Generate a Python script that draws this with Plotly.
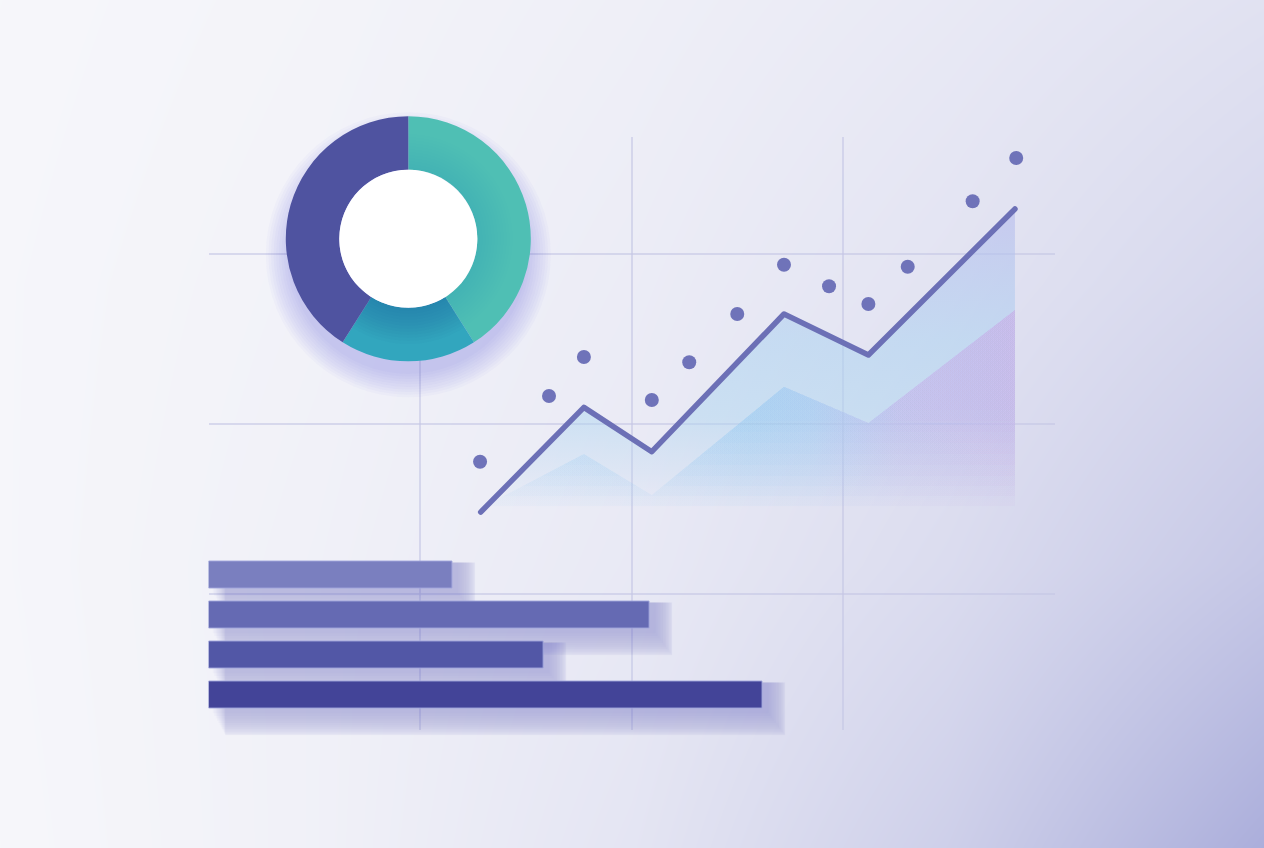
import plotly.graph_objects as go

W, H = 1264, 848

# ---------------- data ----------------
line_x = [1.287, 1.775, 2.096, 2.721, 3.120, 3.813]
line_y = [1.482, 2.098, 1.837, 2.647, 2.406, 3.265]
lower_y = [1.506, 1.824, 1.582, 2.219, 2.006, 2.671]

dot_x = [1.284, 1.610, 1.775, 2.096, 2.273, 2.500, 2.721, 2.934, 3.120, 3.306, 3.613, 3.819]
dot_y = [1.778, 2.165, 2.394, 2.141, 2.363, 2.647, 2.937, 2.810, 2.706, 2.925, 3.310, 3.565]

bar_labels = ["A", "B", "C", "D"]
bar_values = [1.151, 2.083, 1.582, 2.617]
bar_colors = ["#7a7fbf", "#656ab3", "#5257a6", "#434498"]

donut_labels = ["Teal", "Cyan", "Indigo"]
donut_values = [41, 18, 41]
donut_colors = ["#4fbfb4", "#32a6be", "#4f53a0"]
donut_shade = [0.12, 1.0, 0.0]   # relative inner shading per slice

grid_ticks = [1, 2, 3]

# background tint, rows bottom -> top
bg_x = [0, 0.25, 0.5, 0.75, 1]
bg_y = [0, 1 / 3, 2 / 3, 1]
bg_tint = [
    [0.02, 0.10, 0.26, 0.55, 1.00],
    [0.03, 0.10, 0.20, 0.38, 0.65],
    [0.03, 0.08, 0.16, 0.28, 0.45],
    [0.02, 0.06, 0.12, 0.20, 0.30],
]

# ---------------- layout helpers ----------------
X0_PX, X1_PX = 208.5, 1054.5      # chart plot area, left/right
Y_TOP_PX, Y_BOT_PX = 137, 730     # chart plot area, top/bottom
Y_MIN, PX_PER_Y = 0.2, 170.0
Y_MAX = Y_MIN + (Y_BOT_PX - Y_TOP_PX) / PX_PER_Y
BAR_TOP_PX, BAR_ROW_PX, BAR_EXTRA_ROWS = 554.5, 40.0, 0.8


def px_dom_x(a, b):
    return [a / W, b / W]


def px_dom_y(top, bottom):
    return [1 - bottom / H, 1 - top / H]


def circle_domain(cx, cy, r):
    return dict(x=px_dom_x(cx - r, cx + r), y=px_dom_y(cy - r, cy + r))


DONUT_CX, DONUT_CY, DONUT_R, HOLE_R = 408.3, 238.8, 122.5, 69.0

fig = go.Figure()
layout_axes = {}
hidden = dict(visible=False, showgrid=False, zeroline=False, fixedrange=True)
gridc = "rgba(196,198,228,0.6)"

# background gradient (subplot 1)
fig.add_trace(go.Heatmap(
    x=bg_x, y=bg_y, z=bg_tint, zmin=0, zmax=1, zsmooth="best",
    colorscale=[[0, "#f8f8fb"], [1, "#abaedb"]], showscale=False,
    hoverinfo="skip", xaxis="x", yaxis="y"))
layout_axes["xaxis"] = dict(domain=[0, 1], range=[0, 1], anchor="y", **hidden)
layout_axes["yaxis"] = dict(domain=[0, 1], range=[0, 1], anchor="x", **hidden)

# grid + upper area (subplot 2)
layout_axes["xaxis2"] = dict(domain=px_dom_x(X0_PX, X1_PX), range=[0, 4], anchor="y2",
                             tickvals=grid_ticks, showgrid=True, gridcolor=gridc, gridwidth=1.5,
                             showticklabels=False, ticks="", zeroline=False, showline=False,
                             fixedrange=True)
layout_axes["yaxis2"] = dict(domain=px_dom_y(Y_TOP_PX, Y_BOT_PX), range=[Y_MIN, Y_MAX], anchor="x2",
                             tickvals=grid_ticks, showgrid=True, gridcolor=gridc, gridwidth=1.5,
                             showticklabels=False, ticks="", zeroline=False, showline=False,
                             fixedrange=True)

fig.add_trace(go.Scatter(
    x=line_x, y=line_y, mode="lines", line=dict(width=0),
    fill="tozeroy",
    fillgradient=dict(type="vertical", start=1.50, stop=3.30,
                      colorscale=[[0, "rgba(180,210,240,0)"],
                                  [0.12, "rgba(178,212,240,0.22)"],
                                  [0.30, "rgba(172,214,240,0.48)"],
                                  [0.55, "rgba(172,210,240,0.55)"],
                                  [0.8, "rgba(178,196,238,0.58)"],
                                  [1, "rgba(184,186,236,0.62)"]]),
    hoverinfo="skip", xaxis="x2", yaxis="y2"))

# lower area: stacked clipped layers give a soft vertical fade (subplots 3..)
axis_n = 3
for b_px in [410, 421, 432, 443, 454, 465, 476, 486, 496, 506]:
    xa, ya = f"x{axis_n}", f"y{axis_n}"
    layout_axes[f"xaxis{axis_n}"] = dict(domain=px_dom_x(X0_PX, X1_PX), range=[0, 4], anchor=ya, **hidden)
    layout_axes[f"yaxis{axis_n}"] = dict(domain=px_dom_y(Y_TOP_PX, b_px),
                                         range=[Y_MIN + (Y_BOT_PX - b_px) / PX_PER_Y, Y_MAX],
                                         anchor=xa, **hidden)
    fig.add_trace(go.Scatter(
        x=line_x, y=lower_y, mode="lines", line=dict(width=0), fill="tozeroy",
        fillgradient=dict(type="horizontal", start=line_x[0], stop=line_x[-1],
                          colorscale=[[0, "rgba(165,208,242,0.06)"],
                                      [0.5, "rgba(150,200,240,0.08)"],
                                      [0.62, "rgba(160,198,240,0.08)"],
                                      [0.78, "rgba(190,178,232,0.08)"],
                                      [1, "rgba(205,168,228,0.08)"]]),
        hoverinfo="skip", xaxis=xa, yaxis=ya))
    axis_n += 1

# line + dots
xa, ya = f"x{axis_n}", f"y{axis_n}"
layout_axes[f"xaxis{axis_n}"] = dict(domain=px_dom_x(X0_PX, X1_PX), range=[0, 4], anchor=ya, **hidden)
layout_axes[f"yaxis{axis_n}"] = dict(domain=px_dom_y(Y_TOP_PX, Y_BOT_PX), range=[Y_MIN, Y_MAX],
                                     anchor=xa, **hidden)
fig.add_trace(go.Scatter(
    x=line_x, y=line_y, mode="lines",
    line=dict(color="#6c70b6", width=5.5),
    hoverinfo="skip", xaxis=xa, yaxis=ya))
fig.add_trace(go.Scatter(
    x=dot_x, y=dot_y, mode="markers",
    marker=dict(color="#6f73b9", size=14, line=dict(width=0)),
    hoverinfo="skip", xaxis=xa, yaxis=ya))
axis_n += 1

# bars with soft shadows (axis extended below the last bar so its shadow is not clipped)
xa, ya = f"x{axis_n}", f"y{axis_n}"
n_rows = len(bar_labels)
layout_axes[f"xaxis{axis_n}"] = dict(domain=px_dom_x(X0_PX, X1_PX), range=[0, 4], anchor=ya, **hidden)
layout_axes[f"yaxis{axis_n}"] = dict(
    domain=px_dom_y(BAR_TOP_PX, BAR_TOP_PX + BAR_ROW_PX * (n_rows + BAR_EXTRA_ROWS)),
    type="category", categoryarray=bar_labels, categoryorder="array",
    range=[n_rows - 0.5 + BAR_EXTRA_ROWS, -0.5], anchor=xa, **hidden)
n_sh = 14
for i in range(n_sh):
    t = (i / (n_sh - 1)) ** 1.6
    w = 1.32 - 0.55 * t            # shadow reaches 4..27 px below each bar
    ext = 0.11 - 0.08 * t          # and a little past its end
    base = 0.08 - 0.06 * t
    fig.add_trace(go.Bar(
        y=bar_labels, x=[v + ext - base for v in bar_values], base=base, orientation="h",
        width=w, offset=-0.30,
        marker=dict(color="rgba(105,100,200,0.036)", line=dict(width=0)),
        hoverinfo="skip", xaxis=xa, yaxis=ya))
fig.add_trace(go.Bar(
    y=bar_labels, x=bar_values, orientation="h", width=0.675,
    marker=dict(color=bar_colors, line=dict(color="rgba(160,165,220,0.9)", width=1)),
    hoverinfo="skip", xaxis=xa, yaxis=ya))

# donut soft shadow layers
for i in range(10):
    dr = 26 - i * 2.6
    fig.add_trace(go.Pie(
        values=[1], labels=["s"],
        marker=dict(colors=["rgba(110,100,210,0.03)"], line=dict(width=0)),
        domain=circle_domain(DONUT_CX, DONUT_CY + 16, DONUT_R + dr - 6),
        textinfo="none", hoverinfo="skip", sort=False, showlegend=False))

# donut
fig.add_trace(go.Pie(
    values=donut_values, labels=donut_labels,
    marker=dict(colors=donut_colors, line=dict(width=0)),
    hole=HOLE_R / DONUT_R, direction="clockwise", rotation=0, sort=False,
    domain=circle_domain(DONUT_CX, DONUT_CY, DONUT_R),
    textinfo="none", hoverinfo="skip", showlegend=False))

# inner shading rings (darker toward the hole)
for k in range(1, 13):
    r_k = HOLE_R + 3.0 * k
    fig.add_trace(go.Pie(
        values=donut_values, labels=donut_labels,
        marker=dict(colors=[f"rgba(30,70,150,{0.028 * s:.4f})" for s in donut_shade],
                    line=dict(width=0)),
        hole=HOLE_R / r_k, direction="clockwise", rotation=0, sort=False,
        domain=circle_domain(DONUT_CX, DONUT_CY, r_k),
        textinfo="none", hoverinfo="skip", showlegend=False))

# white centre
fig.add_trace(go.Pie(
    values=[1], labels=["c"], marker=dict(colors=["#ffffff"], line=dict(width=0)),
    domain=circle_domain(DONUT_CX, DONUT_CY, HOLE_R),
    textinfo="none", hoverinfo="skip", sort=False, showlegend=False))

fig.update_layout(
    width=W, height=H, margin=dict(l=0, r=0, t=0, b=0),
    paper_bgcolor="#f0f0f6", plot_bgcolor="rgba(0,0,0,0)",
    showlegend=False, hovermode=False, barmode="overlay",
    **layout_axes,
)

post = (
    "document.body.style.margin='0';document.body.style.overflow='hidden';"
    "document.querySelectorAll('.js-line').forEach(function(e){"
    "e.style.strokeLinejoin='round';e.style.strokeLinecap='round';});"
)
fig.write_html("out.html", post_script=post, config={"displayModeBar": False})
